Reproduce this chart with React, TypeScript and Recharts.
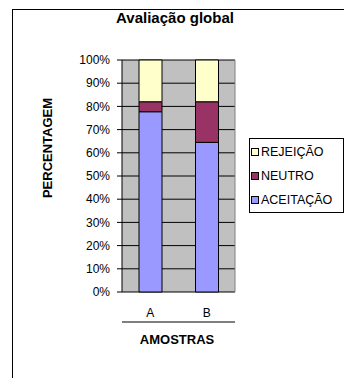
import React from 'react';
import { BarChart, Bar, XAxis, YAxis, CartesianGrid, Legend } from 'recharts';

const samples = ['A', 'B'];
const aceitacao = [77.7, 64.5];
const neutro = [4.3, 17.5];
const rejeicao = [18.0, 18.0];
const percentTicks = [0, 10, 20, 30, 40, 50, 60, 70, 80, 90, 100];
const edgeTicks = [0, 1, 2];

const series = [
  { key: 'rejeicao', name: 'REJEIÇÃO', color: '#FFFFCC' },
  { key: 'neutro', name: 'NEUTRO', color: '#993366' },
  { key: 'aceitacao', name: 'ACEITAÇÃO', color: '#9999FF' },
];

const font = '"Liberation Sans", Arial, sans-serif';

const LegendBox = () => (
  <div
    style={{
      border: '1px solid #000',
      background: '#fff',
      boxSizing: 'border-box',
      width: 95,
      height: 75,
      paddingTop: 1,
      paddingLeft: 1,
    }}
  >
    {series.map((s) => (
      <div key={s.key} style={{ display: 'flex', alignItems: 'center', height: 24, fontSize: 12.5, fontFamily: font, color: '#000' }}>
        <span style={{ width: 6, height: 6, background: s.color, border: '1px solid #000', marginRight: 2 }} />
        {s.name}
      </div>
    ))}
  </div>
);

const App: React.FC = () => {
  const data = samples.map((name, i) => ({
    name,
    aceitacao: aceitacao[i],
    neutro: neutro[i],
    rejeicao: rejeicao[i],
  }));

  return (
    <div style={{ position: 'absolute', left: 0, top: 0, width: 344, height: 378, overflow: 'hidden', background: '#fff', fontFamily: font }}>
      <div style={{ position: 'absolute', left: 12, top: 9, width: 360, height: 400, borderLeft: '1px solid #000', borderTop: '1px solid #000' }} />
      <div style={{ position: 'absolute', left: 0, top: 0 }}>
        <BarChart width={344} height={378} data={data} margin={{ top: 60, right: 108, bottom: 55, left: 0 }}>
          <CartesianGrid vertical={false} stroke="#000" fill="#C0C0C0" fillOpacity={1} />
          <XAxis
            xAxisId="edge"
            type="number"
            domain={[0, 2]}
            ticks={edgeTicks}
            height={1}
            tick={false}
            tickSize={5}
            stroke="#000"
            axisLine={{ stroke: '#000' }}
            tickLine={{ stroke: '#000' }}
          />
          <XAxis
            dataKey="name"
            height={30}
            axisLine={false}
            tickLine={false}
            tickSize={6}
            tickMargin={10}
            tick={{ fill: '#000', fontSize: 12, fontFamily: font }}
          />
          <YAxis
            domain={[0, 100]}
            ticks={percentTicks}
            width={122}
            tickFormatter={(v: number) => `${v}%`}
            tickSize={5}
            tickMargin={7}
            axisLine={{ stroke: '#000' }}
            tickLine={{ stroke: '#000' }}
            tick={{ fill: '#000', fontSize: 12, fontFamily: font }}
            interval={0}
          />
          <YAxis
            yAxisId="r"
            orientation="right"
            domain={[0, 100]}
            width={1}
            tick={false}
            tickLine={false}
            axisLine={{ stroke: '#808080' }}
          />
          <Legend
            layout="horizontal"
            verticalAlign="middle"
            content={<LegendBox />}
            wrapperStyle={{ position: 'absolute', left: 249, top: 138, width: 95, height: 75 }}
          />
          <Bar dataKey="aceitacao" name="ACEITAÇÃO" stackId="s" fill="#9999FF" stroke="#000" barSize={23} isAnimationActive={false} />
          <Bar dataKey="neutro" name="NEUTRO" stackId="s" fill="#993366" stroke="#000" barSize={23} isAnimationActive={false} />
          <Bar dataKey="rejeicao" name="REJEIÇÃO" stackId="s" fill="#FFFFCC" stroke="#000" barSize={23} isAnimationActive={false} />
        </BarChart>
      </div>
      <div style={{ position: 'absolute', left: 0, width: 350, top: 9, textAlign: 'center', fontSize: 15, fontWeight: 'bold', color: '#000' }}>
        Avaliação global
      </div>
      <div
        style={{
          position: 'absolute',
          left: 47,
          top: 148,
          transform: 'translate(-50%, -50%) rotate(-90deg)',
          fontSize: 13,
          fontWeight: 'bold',
          whiteSpace: 'nowrap',
          color: '#000',
        }}
      >
        PERCENTAGEM
      </div>
      <div style={{ position: 'absolute', left: 177, top: 339, transform: 'translate(-50%, -50%)', fontSize: 13, fontWeight: 'bold', color: '#000' }}>
        AMOSTRAS
      </div>
    </div>
  );
};

export default App;
